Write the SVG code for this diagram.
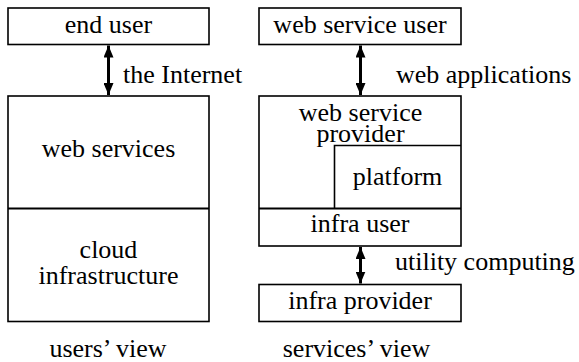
<svg xmlns="http://www.w3.org/2000/svg" width="579" height="362" viewBox="0 0 579 362">
<defs>
<marker id="ah" viewBox="0 0 12 10" refX="12" refY="5" markerWidth="12" markerHeight="10" markerUnits="userSpaceOnUse" orient="auto-start-reverse">
<path d="M0,0 L12,5 L0,10 z" fill="#000"/>
</marker>
</defs>
<rect width="579" height="362" fill="#fff"/>
<g fill="#fff" stroke="#000" stroke-width="1.6">
<g id="end-user"><rect x="8" y="8" width="201" height="36.5"/></g>
<g id="web-services-stack"><rect x="8" y="96" width="201" height="225.5"/><line stroke-width="2" x1="8" y1="208.5" x2="209" y2="208.5"/></g>
<g id="web-service-user"><rect x="259" y="8" width="202" height="36.5"/></g>
<g id="web-service-provider"><rect x="259" y="96" width="202" height="150"/></g>
<g id="platform-box"><polyline fill="none" points="334.5,208.5 334.5,145.5 461,145.5"/></g>
<g id="infra-user-line"><line stroke-width="2" x1="259" y1="208.5" x2="461" y2="208.5"/></g>
<g id="infra-provider"><rect x="259" y="284.5" width="202" height="37"/></g>
</g>
<g id="connectors" stroke="#000" stroke-width="3" fill="none">
<line x1="108.5" y1="45.5" x2="108.5" y2="95" marker-start="url(#ah)" marker-end="url(#ah)"/>
<line x1="360.5" y1="45.5" x2="360.5" y2="95" marker-start="url(#ah)" marker-end="url(#ah)"/>
<line x1="360.5" y1="247" x2="360.5" y2="283.5" marker-start="url(#ah)" marker-end="url(#ah)"/>
</g>
<g id="texts" font-family="Liberation Serif" font-size="26" fill="#000" text-anchor="middle">
<text x="108.5" y="33">end user</text>
<text x="108.5" y="157">web services</text>
<text x="108.5" y="257.5">cloud</text>
<text x="108.5" y="284">infrastructure</text>
<text x="360" y="33">web service user</text>
<text x="360.5" y="121">web service</text>
<text x="360.5" y="141.5">provider</text>
<text x="397.5" y="185">platform</text>
<text x="360" y="232">infra user</text>
<text x="360" y="309">infra provider</text>
<text text-anchor="start" x="123" y="83">the Internet</text>
<text text-anchor="start" x="396" y="83">web applications</text>
<text text-anchor="start" x="395" y="269.5">utility computing</text>
<text x="108" y="357">users’ view</text>
<text x="356.5" y="357">services’ view</text>
</g>
</svg>
